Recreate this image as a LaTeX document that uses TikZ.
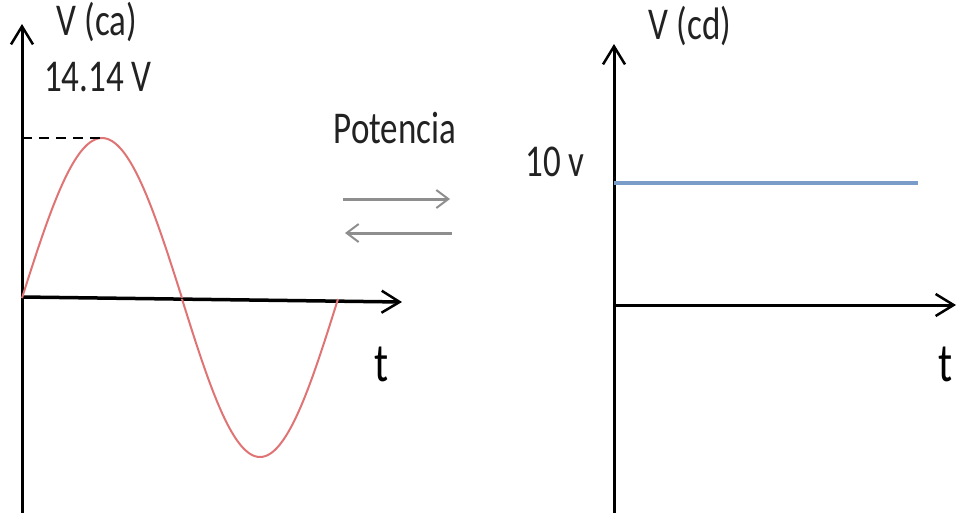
\documentclass[tikz,border=0pt]{standalone}
\usepackage{fontspec}
\setmainfont{Carlito}
\usetikzlibrary{arrows.meta}
\definecolor{sinred}{HTML}{E07474}
\definecolor{dcblue}{HTML}{7A9CC8}
\definecolor{arrgray}{HTML}{8E8E8E}
\definecolor{txt}{HTML}{222222}
\newcommand{\tall}[1]{\scalebox{1}[1.3]{#1}}
\tikzset{
  axis/.style={line width=3pt, black, -{Straight Barb[length=18pt,width=22pt,line width=2.5pt]}},
  lbl/.style={inner sep=0pt, font=\fontsize{35}{40}\selectfont, text=txt},
  tlbl/.style={inner sep=0pt, font=\fontsize{42}{48}\selectfont, text=black},
  grayarr/.style={line width=3pt, arrgray, -{Straight Barb[length=12pt,width=18pt,line width=2pt]}}
}
\begin{document}
\begin{tikzpicture}[x=1pt,y=-1pt]
\useasboundingbox (0,0) rectangle (957,512);
% left axes
\coordinate (lo) at (22,297);
\coordinate (lbot) at (22,515);
\coordinate (ltop) at (22,24);
\coordinate (lright) at (402,302);
\draw[axis] (lbot) -- (ltop);
\draw[axis, line width=3.5pt] (lo) -- (lright);
% sine (two half waves)
\draw[sinred, line width=2pt] plot[domain=22:182, samples=80, smooth] (\x, {298 - 160*sin((\x-22)/160*180)});
\draw[sinred, line width=2pt] plot[domain=182:338, samples=80, smooth] (\x, {299 + 158*sin((\x-182)/156*180)});
% dashed peak line
\coordinate (pk) at (100,138);
\coordinate (pky) at (22,138);
\draw[line width=2.5pt, dash pattern=on 10pt off 7pt] (pky) -- (pk);
% labels left
\node[lbl] (vca) at (97,22) {\tall{V (ca)}};
\node[lbl] (amp) at (98,77) {\tall{14.14 V}};
\node[tlbl] (t1) at (382,364) {\tall{t}};
% middle
\node[lbl] (pot) at (395,128) {\tall{Potencia}};
\coordinate (a1s) at (343,199);
\coordinate (a1e) at (450,199);
\coordinate (a2s) at (452,233);
\coordinate (a2e) at (345,233);
\draw[grayarr] (a1s) -- (a1e);
\draw[grayarr] (a2s) -- (a2e);
% right axes
\coordinate (rbot) at (614,515);
\coordinate (rtop) at (614,44);
\coordinate (ro) at (614,305);
\coordinate (rright) at (956,305);
\draw[axis] (rbot) -- (rtop);
\draw[axis] (ro) -- (rright);
% dc line
\coordinate (dcs) at (614,183);
\coordinate (dce) at (918,183);
\draw[dcblue, line width=4pt] (dcs) -- (dce);
\node[lbl] (vcd) at (690,26) {\tall{V (cd)}};
\node[lbl] (ten) at (555,162) {\tall{10 v}};
\node[tlbl] (t2) at (946,364) {\tall{t}};
\end{tikzpicture}
\end{document}
